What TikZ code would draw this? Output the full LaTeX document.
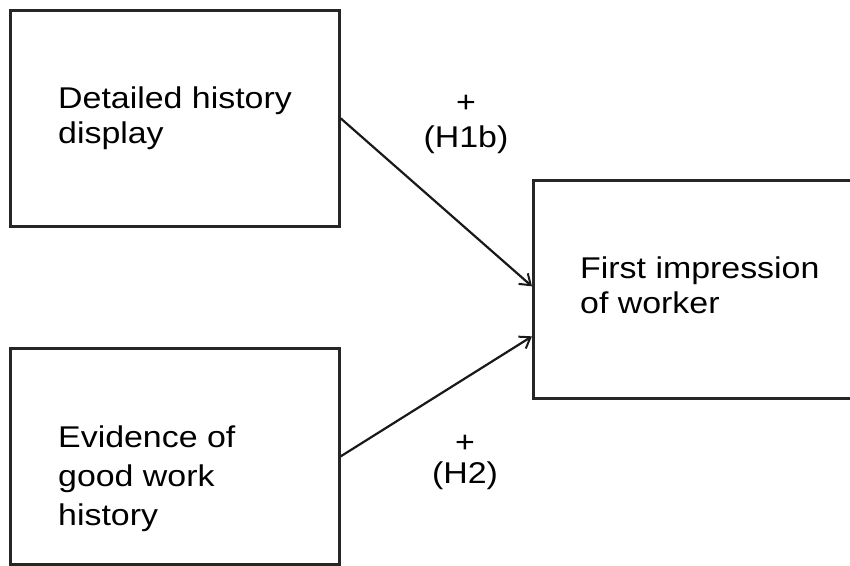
\documentclass[tikz,border=0pt]{standalone}
\usepackage{fontspec}
\setmainfont{Liberation Sans}[FakeStretch=1.13]
\usetikzlibrary{arrows.meta}
\begin{document}
\begin{tikzpicture}[x=1pt,y=-1pt,
  box/.style={draw=black!85, line width=2.7pt, rectangle, anchor=north west, inner sep=0pt},
  lbl/.style={inner sep=0pt, anchor=base west, align=left, font=\fontsize{30}{35}\selectfont},
  sign/.style={inner sep=0pt, anchor=base, font=\fontsize{30}{36}\selectfont},
  link/.style={line width=2.2pt, draw=black!90, -{Straight Barb[length=10pt,width=14pt,line width=2pt]}}]
\clip (0,0) rectangle (850,565);
\useasboundingbox (0,0) rectangle (850,565);
\node[box, minimum width=329pt, minimum height=216pt] (b1) at (9,9) {};
\node[box, minimum width=329pt, minimum height=216pt] (b2) at (9,347) {};
\node[box, minimum width=340pt, minimum height=218pt] (b3) at (532,179) {};
\node[lbl] (t1) at (58,143) {Detailed history\\display};
\node[lbl, font=\fontsize{30}{39}\selectfont] (t2) at (58,525) {Evidence of\\good work\\history};
\node[lbl] (t3) at (580,313) {First impression\\of worker};
\node[sign] (p1) at (466,112) {+};
\node[sign] (h1) at (466,147) {(H1b)};
\node[sign] (p2) at (465,452) {+};
\node[sign] (h2) at (465,483) {(H2)};
\draw[link] (b1.east) -- ([yshift=3pt]b3.west);
\draw[link] (b2.east) -- ([yshift=-47pt]b3.west);
\end{tikzpicture}
\end{document}
